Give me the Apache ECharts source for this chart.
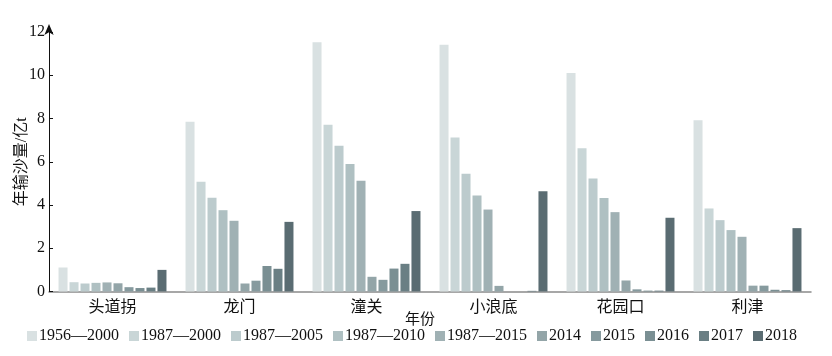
<!DOCTYPE html>
<html><head><meta charset="utf-8">
<script src="https://cdn.jsdelivr.net/npm/echarts@6/dist/echarts.min.js"></script>
<style>html,body{margin:0;padding:0;background:#fff}#c{width:832px;height:356px}</style>
</head><body><div id="c"></div>
<script>
const categories = ['头道拐','龙门','潼关','小浪底','花园口','利津'];
const seriesNames = ['1956—2000','1987—2000','1987—2005','1987—2010','1987—2015','2014','2015','2016','2017','2018'];
const s1956_2000 = [1.11, 7.85, 11.53, 11.41, 10.10, 7.92];
const s1987_2000 = [0.43, 5.08, 7.71, 7.12, 6.63, 3.84];
const s1987_2005 = [0.37, 4.33, 6.74, 5.44, 5.23, 3.30];
const s1987_2010 = [0.40, 3.76, 5.90, 4.44, 4.32, 2.84];
const s1987_2015 = [0.42, 3.27, 5.12, 3.79, 3.67, 2.53];
const s2014 = [0.38, 0.37, 0.68, 0.26, 0.51, 0.27];
const s2015 = [0.20, 0.50, 0.54, 0, 0.10, 0.27];
const s2016 = [0.16, 1.18, 1.06, 0, 0.04, 0.08];
const s2017 = [0.18, 1.05, 1.28, 0.03, 0.04, 0.06];
const s2018 = [1.00, 3.22, 3.72, 4.64, 3.41, 2.93];
const yTicks = [0, 2, 4, 6, 8, 10, 12];
const allValues = [s1956_2000, s1987_2000, s1987_2005, s1987_2010, s1987_2015, s2014, s2015, s2016, s2017, s2018];
const colors = ['#d9e1e2','#c9d6d7','#bccbcd','#afc0c2','#a0b1b4','#93a5a8','#869a9e','#7a8f93','#6a7f84','#5a6c72'];

const serif = '"Liberation Serif","Times New Roman","Noto Sans CJK SC",serif';
const chart = echarts.init(document.getElementById('c'), null, {renderer:'canvas'});
chart.setOption({
  animation: false,
  color: colors,
  textStyle: {fontFamily: serif},
  legend: {
    data: seriesNames,
    left: 22, top: 323,
    itemWidth: 10, itemHeight: 10, itemGap: 10,
    icon: 'rect',
    textStyle: {fontFamily: serif, fontSize: 16, color: '#111', padding: [0,0,0,-3]}
  },
  grid: {left: 49, right: 21, top: 32, bottom: 64.5, containLabel: false, outerBoundsMode: 'none'},
  xAxis: {
    type: 'category',
    data: categories,
    name: '年份',
    nameLocation: 'middle',
    nameGap: 21,
    nameMoveOverlap: false,
    nameTextStyle: {fontFamily: serif, fontSize: 15, color: '#111', padding: [0, 20, 0, 0]},
    axisLine: {lineStyle: {color: '#8a8a8a', width: 1.5}},
    axisTick: {show: false},
    axisLabel: {fontFamily: serif, fontSize: 16, color: '#111', margin: 8}
  },
  yAxis: {
    type: 'value',
    min: yTicks[0], max: yTicks[yTicks.length-1], interval: 2,
    name: '年输沙量/亿t',
    nameLocation: 'middle',
    nameGap: 19,
    nameMoveOverlap: false,
    nameRotate: 90,
    nameTextStyle: {fontFamily: serif, fontSize: 16, color: '#111'},
    axisLine: {show: true, symbol: ['none','arrow'], symbolSize: [7, 11], symbolOffset: [0, 8], lineStyle: {color: '#111', width: 1}},
    axisTick: {show: true, inside: true, length: 4, lineStyle: {color: '#111'}},
    splitLine: {show: false},
    axisLabel: {fontFamily: serif, fontSize: 16, color: '#111', margin: 4}
  },
  series: seriesNames.map((n, i) => ({
    name: n,
    type: 'bar',
    data: allValues[i],
    barGap: '22%',
    barCategoryGap: '15%',
    itemStyle: {color: colors[i]}
  }))
});
</script></body></html>
